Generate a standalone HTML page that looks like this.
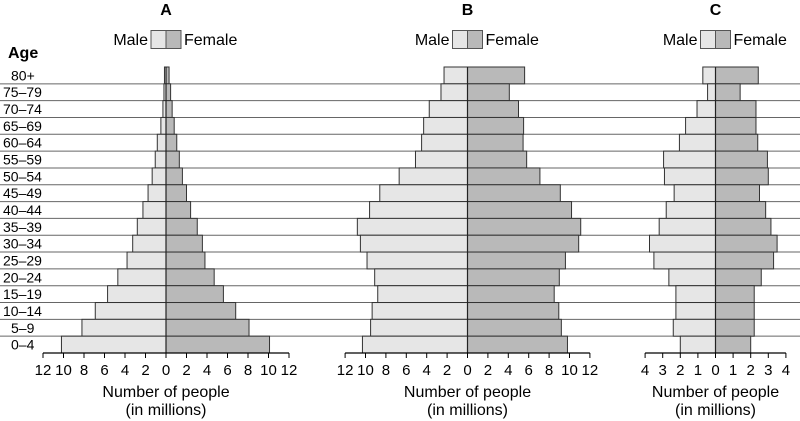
<!DOCTYPE html>
<html><head><meta charset="utf-8"><style>
html,body{margin:0;padding:0;background:#fff}
svg{display:block;font-family:"Liberation Sans",Arial,sans-serif}
</style></head><body>
<svg id="chart" width="800" height="421" viewBox="0 0 800 421" xmlns="http://www.w3.org/2000/svg"></svg>
<script>
const ages = ["80+","75–79","70–74","65–69","60–64","55–59","50–54","45–49","40–44","35–39","30–34","25–29","20–24","15–19","10–14","5–9","0–4"];
const maleA = [0.15,0.2,0.3,0.5,0.85,1.05,1.35,1.75,2.25,2.8,3.25,3.8,4.7,5.7,6.9,8.2,10.2];
const femaleA = [0.3,0.45,0.6,0.8,1.05,1.3,1.6,2.0,2.4,3.05,3.55,3.8,4.7,5.6,6.8,8.1,10.1];
const maleB = [2.3,2.6,3.75,4.3,4.5,5.1,6.7,8.6,9.6,10.8,10.5,9.85,9.1,8.8,9.35,9.5,10.3];
const femaleB = [5.6,4.1,5.0,5.5,5.45,5.8,7.1,9.1,10.2,11.1,10.9,9.6,9.0,8.5,8.95,9.2,9.8];
const maleC = [0.72,0.45,1.05,1.7,2.05,2.95,2.9,2.35,2.8,3.2,3.75,3.5,2.65,2.25,2.25,2.4,2.0];
const femaleC = [2.43,1.4,2.3,2.3,2.4,2.95,3.0,2.5,2.85,3.15,3.5,3.3,2.6,2.2,2.2,2.2,2.0];
const ticksAB = [12,10,8,6,4,2,0,2,4,6,8,10,12];
const ticksC = [4,3,2,1,0,1,2,3,4];

const NS="http://www.w3.org/2000/svg";
const svg=document.getElementById('chart');
function mk(tag,attrs,parent){const e=document.createElementNS(NS,tag);for(const k in attrs)e.setAttribute(k,attrs[k]);(parent||svg).appendChild(e);return e;}
const top0=67, axisY=353, rowH=(axisY-top0)/ages.length;

for(let k=1;k<ages.length;k++){
  const l=mk('line',{x1:0,x2:800,y1:top0+k*rowH,y2:top0+k*rowH,stroke:'#666','stroke-width':1});
  
  
}
const t0=mk('text',{x:8,y:58,'font-size':16,'font-weight':'bold',fill:'#000'});t0.textContent='Age';


ages.forEach((a,i)=>{
  mk('rect',{x:0,y:top0+i*rowH+1.5,width:49,height:rowH-3,fill:'#fff'});
  const t=mk('text',{x:a==='80+'||a==='5–9'||a==='0–4'?11:3,y:top0+i*rowH+rowH/2+5,'font-size':14,fill:'#000'});
  t.textContent=a;
  
  
});

function pyramid(id,cx,scale,maxV,males,females,ticks,tickStep){
  const g=mk('g',{});
  
  
  const x=v=>cx+v*scale;
  const tt=mk('text',{x:cx,y:15,'font-size':16,'font-weight':'bold','text-anchor':'middle'},g);tt.textContent=id;
  
  
  const lm=mk('text',{x:cx-18,y:45,'font-size':16,'text-anchor':'end'},g);lm.textContent='Male';
  
  
  mk('rect',{x:cx-15,y:30.5,width:15,height:18,fill:'#e6e6e6',stroke:'#555'},g);
  mk('rect',{x:cx,y:30.5,width:15,height:18,fill:'#b9b9b9',stroke:'#555'},g);
  const lf=mk('text',{x:cx+18,y:45,'font-size':16},g);lf.textContent='Female';
  
  
  males.forEach((v,i)=>{
    const y=top0+i*rowH;
    const r=mk('rect',{x:x(-v),y:y,width:v*scale,height:rowH,fill:'#e6e6e6',stroke:'#333','stroke-width':1},g);
    
    
  });
  females.forEach((v,i)=>{
    const y=top0+i*rowH;
    const r=mk('rect',{x:cx,y:y,width:v*scale,height:rowH,fill:'#b9b9b9',stroke:'#333','stroke-width':1},g);
    
    
  });
  mk('line',{x1:cx,x2:cx,y1:top0,y2:axisY,stroke:'#222','stroke-width':1.2},g);
  const ax=mk('line',{x1:x(-maxV),x2:x(maxV),y1:axisY,y2:axisY,stroke:'#000','stroke-width':1.2},g);
  
  
  ticks.forEach((lab,i)=>{
    const v=-maxV+i*tickStep;
    mk('line',{x1:x(v),x2:x(v),y1:axisY,y2:axisY+5,stroke:'#000'},g);
    const t=mk('text',{x:x(v),y:375,'font-size':15,'text-anchor':'middle'},g);
    t.textContent=lab;
    
    
  });
  const a1=mk('text',{x:cx,y:397,'font-size':16,'text-anchor':'middle'},g);a1.textContent='Number of people';
  
  
  const a2=mk('text',{x:cx,y:415,'font-size':16,'text-anchor':'middle'},g);a2.textContent='(in millions)';
  
  
}
pyramid('A',166,10.25,12,maleA,femaleA,ticksAB,2);
pyramid('B',467.5,10.2,12,maleB,femaleB,ticksAB,2);
pyramid('C',715.5,17.6,4,maleC,femaleC,ticksC,1);
</script>
</body></html>
